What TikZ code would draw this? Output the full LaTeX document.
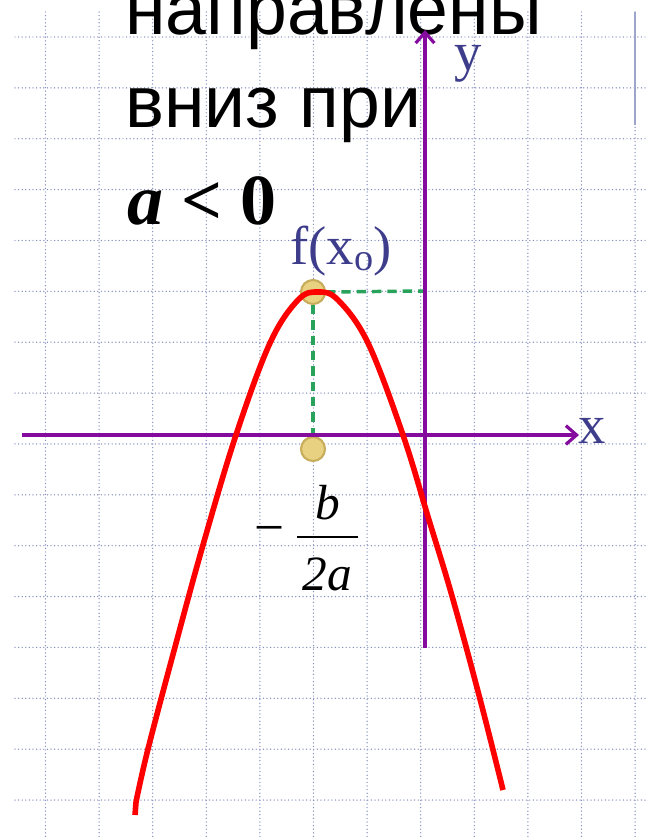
\documentclass[tikz,border=0pt]{standalone}
\usepackage{fontspec}
\setmainfont{Liberation Serif}
\newfontfamily\rusfont{Liberation Sans}
\usetikzlibrary{arrows.meta}
\definecolor{axispurple}{rgb}{0.52, 0.04, 0.62}
\definecolor{labelblue}{rgb}{0.24, 0.24, 0.55}
\definecolor{dashgreen}{rgb}{0.16, 0.64, 0.36}
\definecolor{dotgold}{rgb}{0.91, 0.82, 0.50}
\definecolor{dotedge}{rgb}{0.78, 0.68, 0.36}
\definecolor{gridblue}{rgb}{0.52, 0.56, 0.74}
\tikzstyle{gridline} = [
    draw=gridblue,
    line width=1.1pt,
    line cap=round,
    dash pattern=on 0pt off 2.7pt
]
\tikzstyle{axis} = [
    -{Straight Barb[length=8pt, width=14pt, line width=2.4pt]},
    draw=axispurple,
    line width=3pt
]
\tikzstyle{helper} = [
    draw=dashgreen,
    line width=2.6pt,
    dash pattern=on 7pt off 4.5pt
]
\tikzstyle{vertexdot} = [
    circle,
    draw=dotedge,
    line width=1.6pt,
    fill=dotgold,
    minimum size=18pt,
    inner sep=0pt
]
\tikzstyle{curve} = [
    draw=red,
    line width=4.2pt
]
\tikzstyle{bigtext} = [
    inner sep=0pt,
    anchor=base west,
    font=\rusfont\fontsize{55}{66}\selectfont
]
\tikzstyle{axislabel} = [
    inner sep=0pt,
    anchor=base west,
    text=labelblue,
    font=\fontsize{41}{48}\selectfont
]
\tikzstyle{fracpart} = [
    inner sep=0pt,
    font=\fontsize{37}{44}\selectfont\itshape
]

\begin{document}
\begin{tikzpicture}[x=0.75pt, y=-0.75pt]
        \useasboundingbox (0,0) rectangle (646,839);
        \clip (0,0) rectangle (646,839);

        % dotted grid
        \foreach \i in {0,...,11}
            \draw[gridline] ({45.5+53.6*\i},12) -- ({45.5+53.6*\i},839);
        \foreach \j in {0,...,15}
            \draw[gridline] (15,{37+50.87*\j}) -- (646,{37+50.87*\j});
        \draw[draw=gridblue!80, line width=1.1pt] (635,12) -- (635,125);

        \node[bigtext] (line1) at (125,34) {направлены};
        \node[bigtext] (line2) at (125,127) {вниз при};
        \node[inner sep=0pt, anchor=base west, font=\fontsize{54}{64}\selectfont\bfseries] (cond) at (127,224) {\textit{a} < 0};

        \coordinate (xstart) at (22,435);
        \coordinate (xend) at (579,435);
        \coordinate (ystart) at (425,648);
        \coordinate (yend) at (425,30);
        \coordinate (ontop) at (425,291);

        \node[vertexdot] (top) at (313,292) {};
        \node[vertexdot] (foot) at (313,449) {};
        \draw[helper] (top.south) -- (foot.north);
        \draw[helper] (top.east) -- (ontop);

        \draw[axis] (xstart) -- (xend);
        \draw[axis] (ystart) -- (yend);

        \node[axislabel] (xlab) at (578,443) {x};
        \node[axislabel] (ylab) at (454,70) {y};
        \node[axislabel] (fx) at (290,264) {f(x\textsubscript{o})};

        \coordinate (barl) at (297,537);
        \coordinate (barr) at (358,537);
        \node[fracpart, font=\fontsize{40}{44}\selectfont] (minus) at (270,536) {−};
        \node[fracpart, anchor=base] (num) at (328,519) {b};
        \node[fracpart, anchor=base] (den) at (327,590) {2a};
        \draw[line width=1.5pt] (barl) -- (barr);

        \draw[curve] (135,815) -- (136,802)
            plot[smooth, tension=0.6] coordinates {(136,802) (148,749) (175,647) (203,545)
            (236,435) (270,343) (298,300) (318,292) (338,300) (368,343) (403,435)
            (429,520) (452,596) (480,699) (503,790)};
    \end{tikzpicture}
\end{document}
